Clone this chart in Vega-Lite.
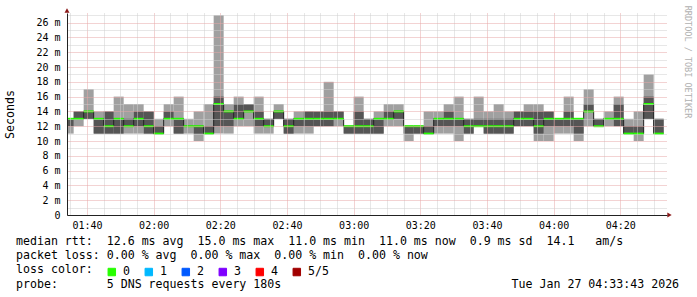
{
  "$schema": "https://vega.github.io/schema/vega-lite/v6.json",
  "width": 600,
  "height": 202,
  "autosize": {"type": "none"},
  "padding": {"left": 67, "top": 13, "right": 30, "bottom": 82},
  "background": "white",
  "title": {
    "text": [
      "median\u00a0rtt:\u00a0\u00a012.6\u00a0ms\u00a0avg\u00a0\u00a015.0\u00a0ms\u00a0max\u00a0\u00a011.0\u00a0ms\u00a0min\u00a0\u00a011.0\u00a0ms\u00a0now\u00a0\u00a00.9\u00a0ms\u00a0sd\u00a0\u00a014.1\u00a0\u00a0\u00a0am/s",
      "packet\u00a0loss:\u00a00.00\u00a0%\u00a0avg\u00a0\u00a00.00\u00a0%\u00a0max\u00a0\u00a00.00\u00a0%\u00a0min\u00a0\u00a00.00\u00a0%\u00a0now",
      "loss\u00a0color:",
      "probe:\u00a0\u00a0\u00a0\u00a0\u00a0\u00a0\u00a05\u00a0DNS\u00a0requests\u00a0every\u00a0180s\u00a0\u00a0\u00a0\u00a0\u00a0\u00a0\u00a0\u00a0\u00a0\u00a0\u00a0\u00a0\u00a0\u00a0\u00a0\u00a0\u00a0\u00a0\u00a0\u00a0\u00a0\u00a0\u00a0\u00a0\u00a0\u00a0\u00a0\u00a0\u00a0\u00a0\u00a0\u00a0\u00a0Tue\u00a0Jan\u00a027\u00a004:33:43\u00a02026"
    ],
    "orient": "bottom",
    "anchor": "start",
    "frame": "group",
    "align": "left",
    "baseline": "top",
    "font": "DejaVu Sans Mono",
    "fontSize": 11.6,
    "fontWeight": "normal",
    "color": "#000",
    "lineHeight": 14.2,
    "offset": -42,
    "dx": -51
  },
  "config": {
    "view": {"stroke": null},
    "font": "DejaVu Sans Mono",
    "axis": {"labelFont": "DejaVu Sans Mono", "titleFont": "DejaVu Sans Mono", "labelColor": "#000", "titleColor": "#000", "titleFontWeight": "normal"}
  },
  "data": {"values": [
    {"t0": 93, "t1": 96, "mn": 11, "p2": 12, "md": 13, "p4": 13, "mx": 13, "loss": "0"},
    {"t0": 96, "t1": 99, "mn": 12, "p2": 13, "md": 13, "p4": 14, "mx": 14, "loss": "0"},
    {"t0": 99, "t1": 102, "mn": 13, "p2": 13, "md": 14, "p4": 14, "mx": 17, "loss": "0"},
    {"t0": 102, "t1": 105, "mn": 11, "p2": 11, "md": 13, "p4": 13, "mx": 14, "loss": "0"},
    {"t0": 105, "t1": 108, "mn": 11, "p2": 11, "md": 12, "p4": 14, "mx": 14, "loss": "0"},
    {"t0": 108, "t1": 111, "mn": 11, "p2": 11, "md": 13, "p4": 13, "mx": 16, "loss": "0"},
    {"t0": 111, "t1": 114, "mn": 11, "p2": 12, "md": 12, "p4": 13, "mx": 15, "loss": "0"},
    {"t0": 114, "t1": 117, "mn": 11, "p2": 12, "md": 13, "p4": 14, "mx": 15, "loss": "0"},
    {"t0": 117, "t1": 120, "mn": 11, "p2": 11, "md": 12, "p4": 14, "mx": 14, "loss": "0"},
    {"t0": 120, "t1": 123, "mn": 11, "p2": 11, "md": 11, "p4": 12, "mx": 13, "loss": "0"},
    {"t0": 123, "t1": 126, "mn": 12, "p2": 13, "md": 13, "p4": 14, "mx": 15, "loss": "0"},
    {"t0": 126, "t1": 129, "mn": 11, "p2": 11, "md": 13, "p4": 13, "mx": 16, "loss": "0"},
    {"t0": 129, "t1": 132, "mn": 11, "p2": 12, "md": 12, "p4": 12, "mx": 13, "loss": "0"},
    {"t0": 132, "t1": 135, "mn": 10, "p2": 11, "md": 12, "p4": 12, "mx": 14, "loss": "0"},
    {"t0": 135, "t1": 138, "mn": 11, "p2": 11, "md": 11, "p4": 12, "mx": 15, "loss": "0"},
    {"t0": 138, "t1": 141, "mn": 11, "p2": 12, "md": 15, "p4": 16, "mx": 27, "loss": "0"},
    {"t0": 141, "t1": 144, "mn": 11, "p2": 12, "md": 14, "p4": 14, "mx": 15, "loss": "0"},
    {"t0": 144, "t1": 147, "mn": 12, "p2": 13, "md": 13, "p4": 15, "mx": 16, "loss": "0"},
    {"t0": 147, "t1": 150, "mn": 12, "p2": 14, "md": 14, "p4": 15, "mx": 15, "loss": "0"},
    {"t0": 150, "t1": 153, "mn": 11, "p2": 12, "md": 13, "p4": 14, "mx": 16, "loss": "0"},
    {"t0": 153, "t1": 156, "mn": 11, "p2": 12, "md": 12, "p4": 13, "mx": 13, "loss": "0"},
    {"t0": 156, "t1": 159, "mn": 13, "p2": 13, "md": 14, "p4": 14, "mx": 15, "loss": "0"},
    {"t0": 159, "t1": 162, "mn": 11, "p2": 11, "md": 12, "p4": 13, "mx": 13, "loss": "0"},
    {"t0": 162, "t1": 165, "mn": 11, "p2": 12, "md": 13, "p4": 13, "mx": 14, "loss": "0"},
    {"t0": 165, "t1": 168, "mn": 11, "p2": 12, "md": 13, "p4": 14, "mx": 14, "loss": "0"},
    {"t0": 168, "t1": 171, "mn": 12, "p2": 12, "md": 13, "p4": 14, "mx": 14, "loss": "0"},
    {"t0": 171, "t1": 174, "mn": 12, "p2": 12, "md": 13, "p4": 14, "mx": 18, "loss": "0"},
    {"t0": 174, "t1": 177, "mn": 12, "p2": 13, "md": 13, "p4": 14, "mx": 14, "loss": "0"},
    {"t0": 177, "t1": 180, "mn": 11, "p2": 11, "md": 12, "p4": 12, "mx": 12, "loss": "0"},
    {"t0": 180, "t1": 183, "mn": 11, "p2": 11, "md": 12, "p4": 14, "mx": 16, "loss": "0"},
    {"t0": 183, "t1": 186, "mn": 11, "p2": 11, "md": 12, "p4": 13, "mx": 13, "loss": "0"},
    {"t0": 186, "t1": 189, "mn": 11, "p2": 11, "md": 13, "p4": 13, "mx": 14, "loss": "0"},
    {"t0": 189, "t1": 192, "mn": 12, "p2": 13, "md": 13, "p4": 14, "mx": 15, "loss": "0"},
    {"t0": 192, "t1": 195, "mn": 12, "p2": 13, "md": 14, "p4": 14, "mx": 15, "loss": "0"},
    {"t0": 195, "t1": 198, "mn": 10, "p2": 11, "md": 12, "p4": 12, "mx": 12, "loss": "0"},
    {"t0": 198, "t1": 201, "mn": 11, "p2": 11, "md": 12, "p4": 12, "mx": 12, "loss": "0"},
    {"t0": 201, "t1": 204, "mn": 11, "p2": 11, "md": 11, "p4": 12, "mx": 14, "loss": "0"},
    {"t0": 204, "t1": 207, "mn": 11, "p2": 12, "md": 13, "p4": 13, "mx": 14, "loss": "0"},
    {"t0": 207, "t1": 210, "mn": 11, "p2": 12, "md": 13, "p4": 14, "mx": 15, "loss": "0"},
    {"t0": 210, "t1": 213, "mn": 10, "p2": 12, "md": 13, "p4": 13, "mx": 16, "loss": "0"},
    {"t0": 213, "t1": 216, "mn": 11, "p2": 11, "md": 12, "p4": 13, "mx": 13, "loss": "0"},
    {"t0": 216, "t1": 219, "mn": 12, "p2": 12, "md": 12, "p4": 13, "mx": 16, "loss": "0"},
    {"t0": 219, "t1": 222, "mn": 11, "p2": 11, "md": 12, "p4": 13, "mx": 14, "loss": "0"},
    {"t0": 222, "t1": 225, "mn": 11, "p2": 11, "md": 12, "p4": 13, "mx": 15, "loss": "0"},
    {"t0": 225, "t1": 228, "mn": 11, "p2": 11, "md": 12, "p4": 13, "mx": 14, "loss": "0"},
    {"t0": 228, "t1": 231, "mn": 12, "p2": 12, "md": 13, "p4": 14, "mx": 14, "loss": "0"},
    {"t0": 231, "t1": 234, "mn": 12, "p2": 12, "md": 13, "p4": 14, "mx": 15, "loss": "0"},
    {"t0": 234, "t1": 237, "mn": 10, "p2": 11, "md": 12, "p4": 14, "mx": 15, "loss": "0"},
    {"t0": 237, "t1": 240, "mn": 10, "p2": 12, "md": 13, "p4": 14, "mx": 14, "loss": "0"},
    {"t0": 240, "t1": 243, "mn": 11, "p2": 12, "md": 13, "p4": 13, "mx": 13, "loss": "0"},
    {"t0": 243, "t1": 246, "mn": 11, "p2": 12, "md": 13, "p4": 14, "mx": 16, "loss": "0"},
    {"t0": 246, "t1": 249, "mn": 10, "p2": 11, "md": 13, "p4": 13, "mx": 13, "loss": "0"},
    {"t0": 249, "t1": 252, "mn": 12, "p2": 14, "md": 14, "p4": 15, "mx": 17, "loss": "0"},
    {"t0": 252, "t1": 255, "mn": 12, "p2": 12, "md": 12, "p4": 13, "mx": 13, "loss": "0"},
    {"t0": 255, "t1": 258, "mn": 12, "p2": 13, "md": 13, "p4": 13, "mx": 14, "loss": "0"},
    {"t0": 258, "t1": 261, "mn": 12, "p2": 12, "md": 13, "p4": 15, "mx": 16, "loss": "0"},
    {"t0": 261, "t1": 264, "mn": 11, "p2": 11, "md": 11, "p4": 12, "mx": 13, "loss": "0"},
    {"t0": 264, "t1": 267, "mn": 10, "p2": 11, "md": 11, "p4": 12, "mx": 14, "loss": "0"},
    {"t0": 267, "t1": 270, "mn": 13, "p2": 13, "md": 15, "p4": 16, "mx": 19, "loss": "0"},
    {"t0": 270, "t1": 273, "mn": 11, "p2": 11, "md": 11, "p4": 13, "mx": 13, "loss": "0"}
  ]},
  "layer": [
    {
      "mark": {"type": "rect", "color": "#a0a0a0", "clip": true},
      "encoding": {
        "x": {
          "field": "t0", "type": "quantitative",
          "scale": {"domain": [94, 274], "nice": false, "zero": false},
          "axis": {
            "orient": "bottom",
            "values": [100, 120, 140, 160, 180, 200, 220, 240, 260],
            "grid": false,
            "ticks": false,
            "tickSize": 0,
            "domain": true,
            "domainColor": "#222222",
            "labelExpr": "datum.value === 100 ? '01:40' : datum.value === 120 ? '02:00' : datum.value === 140 ? '02:20' : datum.value === 160 ? '02:40' : datum.value === 180 ? '03:00' : datum.value === 200 ? '03:20' : datum.value === 220 ? '03:40' : datum.value === 240 ? '04:00' : datum.value === 260 ? '04:20' : ''",
            "labelFontSize": 10,
            "labelPadding": 5,
            "labelFlush": false,
            "labelOverlap": false,
            "title": null,
            "zindex": 2
          }
        },
        "x2": {"field": "t1"},
        "y": {
          "field": "mn", "type": "quantitative",
          "scale": {"domain": [0, 27.3], "nice": false, "zero": true},
          "axis": {
            "values": [0,1,2,3,4,5,6,7,8,9,10,11,12,13,14,15,16,17,18,19,20,21,22,23,24,25,26,27],
            "grid": true,
            "gridColor": {"condition": {"test": "datum.value % 2 === 0", "value": "#e6a6a6"}, "value": "#cfcfcf"},
            "gridDash": [1, 1],
            "gridWidth": 1,
            "ticks": false,
            "tickSize": 0,
            "domainColor": "#222222",
            "labelExpr": "datum.value % 2 === 0 ? (datum.value === 0 ? '0' : datum.value + ' m') : ''",
            "labelFontSize": 10,
            "labelPadding": 7,
            "labelFlush": false,
            "labelOverlap": false,
            "title": "Seconds",
            "titleFontSize": 11.6,
            "titleAngle": -90,
            "titleX": -56.5,
            "titleY": 101,
            "titleAlign": "center",
            "titleBaseline": "middle",
            "zindex": 1
          }
        },
        "y2": {"field": "mx"}
      }
    },
    {
      "mark": {"type": "rect", "color": "#555555", "clip": true},
      "encoding": {
        "x": {
          "field": "t0", "type": "quantitative",
          "scale": {"domain": [94, 274], "nice": false, "zero": false},
          "axis": {
            "orient": "bottom",
            "values": [95,100,105,110,115,120,125,130,135,140,145,150,155,160,165,170,175,180,185,190,195,200,205,210,215,220,225,230,235,240,245,250,255,260,265,270],
            "grid": true,
            "gridColor": {"condition": {"test": "datum.value % 20 === 0", "value": "#e6a6a6"}, "value": "#cfcfcf"},
            "gridDash": [1, 1],
            "gridWidth": 1,
            "domain": false,
            "ticks": false,
            "labels": false,
            "title": null,
            "zindex": 1
          }
        },
        "x2": {"field": "t1"},
        "y": {"field": "p2", "type": "quantitative", "scale": {"domain": [0, 27.3], "nice": false, "zero": true}, "axis": null},
        "y2": {"field": "p4"}
      }
    },
    {
      "mark": {"type": "line", "interpolate": "step-after", "color": "#202020", "strokeWidth": 1, "clip": true},
      "encoding": {
        "x": {"field": "t0", "type": "quantitative", "scale": {"domain": [94, 274], "nice": false, "zero": false}, "axis": null},
        "y": {
          "field": "md", "type": "quantitative",
          "scale": {"domain": [0, 27.3], "nice": false, "zero": true},
          "axis": {
            "orient": "right",
            "domain": false,
            "ticks": false,
            "labels": false,
            "grid": false,
            "title": "RRDTOOL / TOBI OETIKER",
            "titleAngle": 90,
            "titleX": 20.5,
            "titleY": 48.5,
            "titleAlign": "center",
            "titleBaseline": "middle",
            "titleFontSize": 8.5,
            "titleColor": "#b0b0b0"
          }
        }
      }
    },
    {
      "mark": {"type": "rule", "strokeWidth": 2, "clip": true},
      "encoding": {
        "x": {"field": "t0", "type": "quantitative", "scale": {"domain": [94, 274], "nice": false, "zero": false}, "axis": null},
        "x2": {"field": "t1"},
        "y": {"field": "md", "type": "quantitative", "scale": {"domain": [0, 27.3], "nice": false, "zero": true}, "axis": null},
        "color": {
          "field": "loss", "type": "nominal",
          "scale": {"domain": ["0", "1", "2", "3", "4", "5/5"], "range": ["#26ff00", "#00b8ff", "#0059ff", "#7e00ff", "#ff0000", "#a10000"]},
          "legend": {
            "orient": "none",
            "legendX": 39,
            "legendY": 253,
            "direction": "horizontal",
            "title": null,
            "labelFont": "DejaVu Sans Mono",
            "labelFontSize": 11.6,
            "labelColor": "#000",
            "labelOffset": 5.5,
            "columnPadding": 12,
            "symbolType": "square",
            "symbolSize": 56,
            "padding": 0,
            "encode": {
              "symbols": {
                "update": {
                  "fill": {"scale": "color", "field": "value"},
                  "stroke": {"value": "#000000"},
                  "strokeWidth": {"value": 1},
                  "opacity": {"value": 1},
                  "fillOpacity": {"value": 1},
                  "shape": {"value": "square"},
                  "size": {"value": 56}
                }
              }
            }
          }
        }
      }
    },
    {
      "data": {"values": [{}]},
      "mark": {"type": "point", "shape": "triangle-up", "filled": true, "color": "#8b1a1a", "size": 25, "opacity": 1, "clip": false},
      "encoding": {
        "x": {"datum": 94, "type": "quantitative", "scale": {"domain": [94, 274], "nice": false, "zero": false}, "axis": null},
        "y": {"datum": 27.64, "type": "quantitative", "scale": {"domain": [0, 27.3], "nice": false, "zero": true}, "axis": null}
      }
    },
    {
      "data": {"values": [{}]},
      "mark": {"type": "point", "shape": "triangle-right", "filled": true, "color": "#8b1a1a", "size": 25, "opacity": 1, "clip": false},
      "encoding": {
        "x": {"datum": 274.75, "type": "quantitative", "scale": {"domain": [94, 274], "nice": false, "zero": false}, "axis": null},
        "y": {"datum": 0, "type": "quantitative", "scale": {"domain": [0, 27.3], "nice": false, "zero": true}, "axis": null}
      }
    }
  ],
  "resolve": {"axis": {"x": "independent", "y": "independent"}}
}
